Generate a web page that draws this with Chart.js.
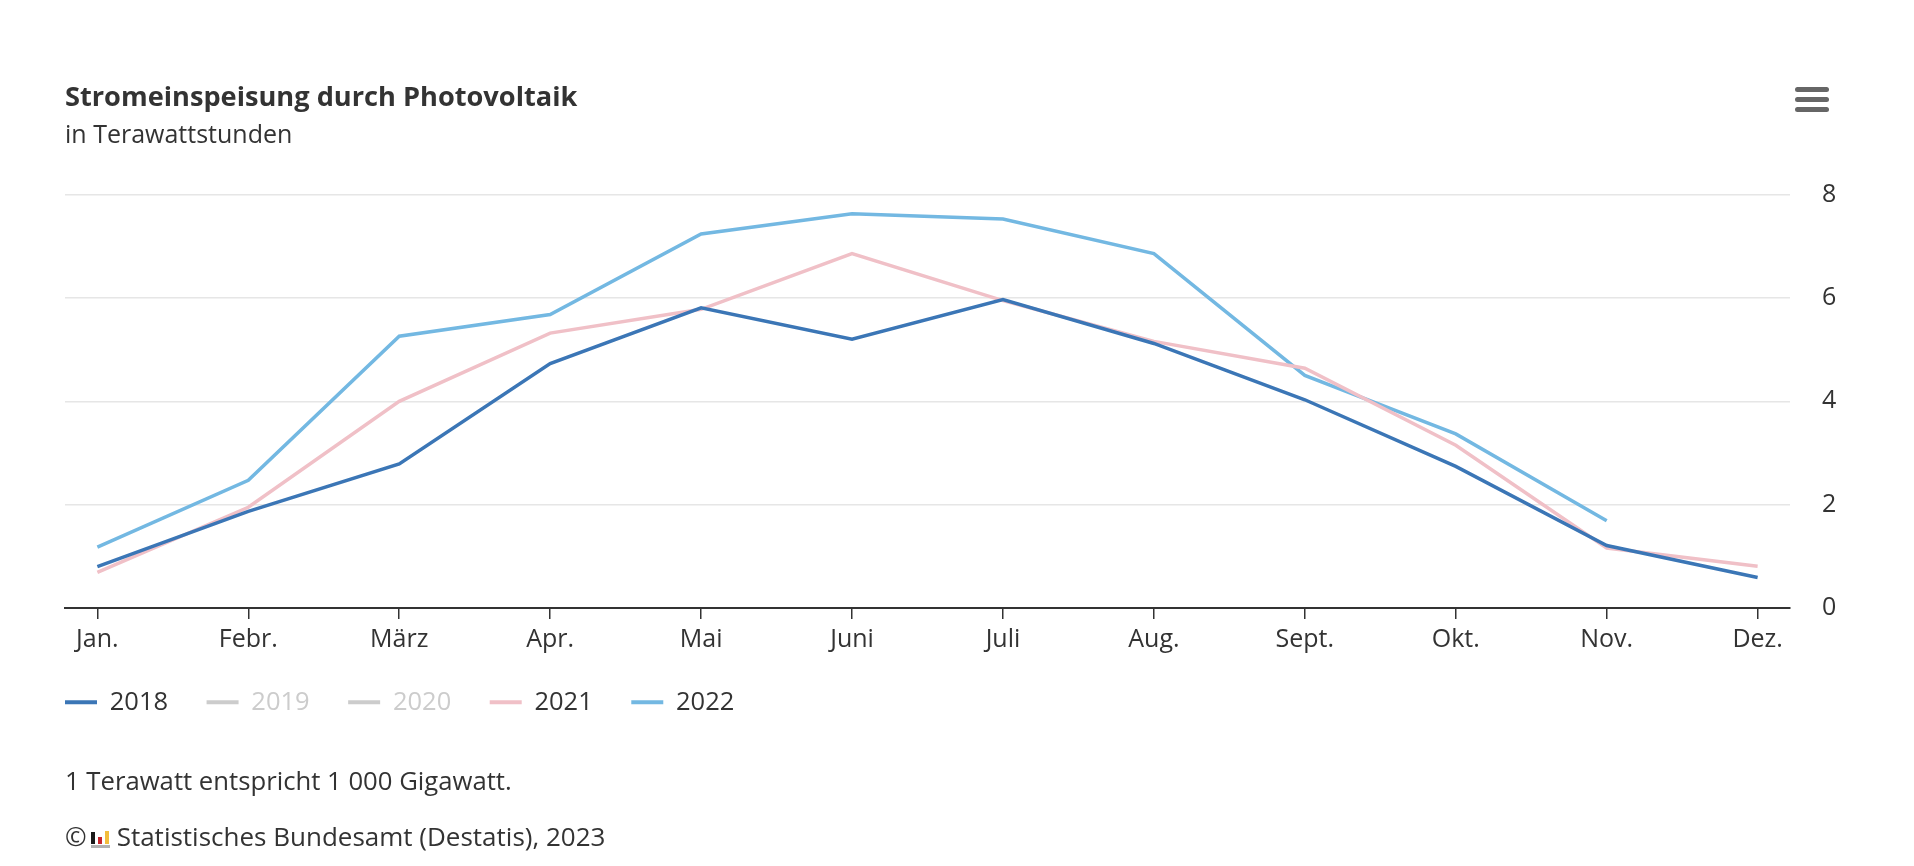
<!DOCTYPE html>
<html lang="de">
<head>
<meta charset="utf-8">
<title>Stromeinspeisung durch Photovoltaik</title>
<script src="https://cdn.jsdelivr.net/npm/chart.js@4.4.1/dist/chart.umd.min.js"></script>
<style>
  html, body { margin: 0; padding: 0; background: #fff; }
  body { width: 1914px; height: 866px; position: relative; overflow: hidden; font-family: "Open Sans", sans-serif; color: #333; }
  #wrap { position: absolute; left: 0; top: 0; width: 1914px; height: 866px; }
  .menu { position: absolute; left: 1795px; top: 87px; width: 34px; }
  .menu span { display: block; height: 5px; border-radius: 3px; background: #666; margin-bottom: 5px; }
  .note { position: absolute; left: 65px; font-size: 25.7px; line-height: 30px; color: #333; white-space: nowrap; }
  .logo { display: inline-block; position: relative; width: 19px; height: 19px; vertical-align: -2px; margin: 0 7px 0 4px; }
  .logo i { position: absolute; bottom: 4px; width: 4px; display: block; }
  .logo b { position: absolute; left: 0; bottom: 0; width: 19px; height: 3px; background: #b1b1b1; display: block; }
</style>
</head>
<body>
<div id="wrap"><canvas id="c" width="1914" height="866"></canvas></div>
<div class="menu"><span></span><span></span><span></span></div>
<div class="note" style="top:766px;">1 Terawatt entspricht 1 000 Gigawatt.</div>
<div class="note" style="top:821px;font-size:26px;">©<span class="logo"><i style="left:0;height:12px;background:#1a1a1a"></i><i style="left:7px;height:7px;background:#c8262c"></i><i style="left:14px;height:13px;background:#f2bd3c"></i><b></b></span>Statistisches Bundesamt (Destatis), 2023</div>
<script>
const categories = ['Jan.', 'Febr.', 'März', 'Apr.', 'Mai', 'Juni', 'Juli', 'Aug.', 'Sept.', 'Okt.', 'Nov.', 'Dez.'];
const seriesNames = ['2018', '2019', '2020', '2021', '2022'];
const v2018 = [0.80, 1.87, 2.79, 4.73, 5.81, 5.20, 5.97, 5.12, 4.03, 2.74, 1.21, 0.59];
const v2019 = [];
const v2020 = [];
const v2021 = [0.69, 1.95, 4.00, 5.32, 5.78, 6.86, 5.95, 5.16, 4.64, 3.15, 1.16, 0.81];
const v2022 = [1.18, 2.47, 5.26, 5.68, 7.24, 7.63, 7.53, 6.86, 4.50, 3.37, 1.69, null];
const hiddenSeries = ['2019', '2020'];
const yTicks = [0, 2, 4, 6, 8];

const seriesValues = [v2018, v2019, v2020, v2021, v2022];
const seriesColors = ['#3b76b6', '#cccccc', '#cccccc', '#f0c0c7', '#73b8e2'];

const toPoints = vals => vals.map((v, i) => ({ x: i, y: v }));

const legendShift = {
  id: 'legendShift',
  afterUpdate(chart, args, opts) {
    const lg = chart.legend;
    if (!lg) return;
    const p = lg.options.labels.padding;
    lg.left -= p; lg.right -= p;
    lg.top -= opts.up; lg.bottom -= opts.up;
    lg.adjustHitBoxes();
  }
};

function build() {
  Chart.defaults.font.family = '"Open Sans", sans-serif';
  Chart.defaults.color = '#333';
  new Chart(document.getElementById('c'), {
    type: 'line',
    data: {
      datasets: seriesNames.map((name, k) => ({
        label: name,
        data: toPoints(seriesValues[k]),
        hidden: hiddenSeries.includes(name),
        borderColor: seriesColors[k],
        backgroundColor: seriesColors[k],
        borderWidth: 3.5,
        pointRadius: 0,
        pointHoverRadius: 0,
        tension: 0,
        spanGaps: false
      }))
    },
    options: {
      responsive: false,
      animation: false,
      layout: { padding: { left: 65, right: 64, top: 81.5, bottom: 131 } },
      scales: {
        x: {
          type: 'linear',
          min: -0.2145,
          max: 11.2145,
          afterBuildTicks: s => { s.ticks = categories.map((_, i) => ({ value: i })); },
          ticks: {
            autoSkip: false, maxRotation: 0, minRotation: 0,
            padding: 6,
            font: { size: 25 },
            color: '#333',
            callback: v => categories[v]
          },
          grid: { drawOnChartArea: false, drawTicks: true, tickLength: 11, tickColor: '#333', lineWidth: 1.5 },
          border: { display: true, color: '#333', width: 2 }
        },
        y: {
          position: 'right',
          min: 0, max: 8,
          afterBuildTicks: s => { s.ticks = yTicks.map(v => ({ value: v })); },
          afterFit: s => { s.width = 60; },
          ticks: { padding: 32, font: { size: 25 }, color: '#333' },
          grid: { color: '#e6e6e6', lineWidth: 1.5, drawTicks: false },
          border: { display: false }
        }
      },
      plugins: {
        title: {
          display: true,
          text: 'Stromeinspeisung durch Photovoltaik',
          align: 'start',
          color: '#333',
          font: { size: 27.2, weight: 'bold' },
          padding: { top: 0, bottom: 7 }
        },
        subtitle: {
          display: true,
          text: 'in Terawattstunden',
          align: 'start',
          color: '#333',
          font: { size: 25 },
          padding: { top: 0, bottom: 43.5 }
        },
        legend: {
          position: 'bottom',
          align: 'start',
          labels: {
            boxWidth: 32,
            boxHeight: 4,
            padding: 38.5,
            font: { size: 25.5 },
            generateLabels(chart) {
              return chart.data.datasets.map((ds, i) => {
                const vis = chart.isDatasetVisible(i);
                const col = vis ? ds.borderColor : '#cccccc';
                return {
                  text: ds.label,
                  datasetIndex: i,
                  fillStyle: col,
                  strokeStyle: col,
                  lineWidth: 0,
                  fontColor: vis ? '#333' : '#cccccc',
                  hidden: false
                };
              });
            }
          }
        },
        legendShift: { up: 10 },
        tooltip: { enabled: false }
      }
    },
    plugins: [legendShift]
  });
}

Promise.all([
  document.fonts.load('25px "Open Sans"'),
  document.fonts.load('bold 27px "Open Sans"')
]).then(build, build);
</script>
</body>
</html>
